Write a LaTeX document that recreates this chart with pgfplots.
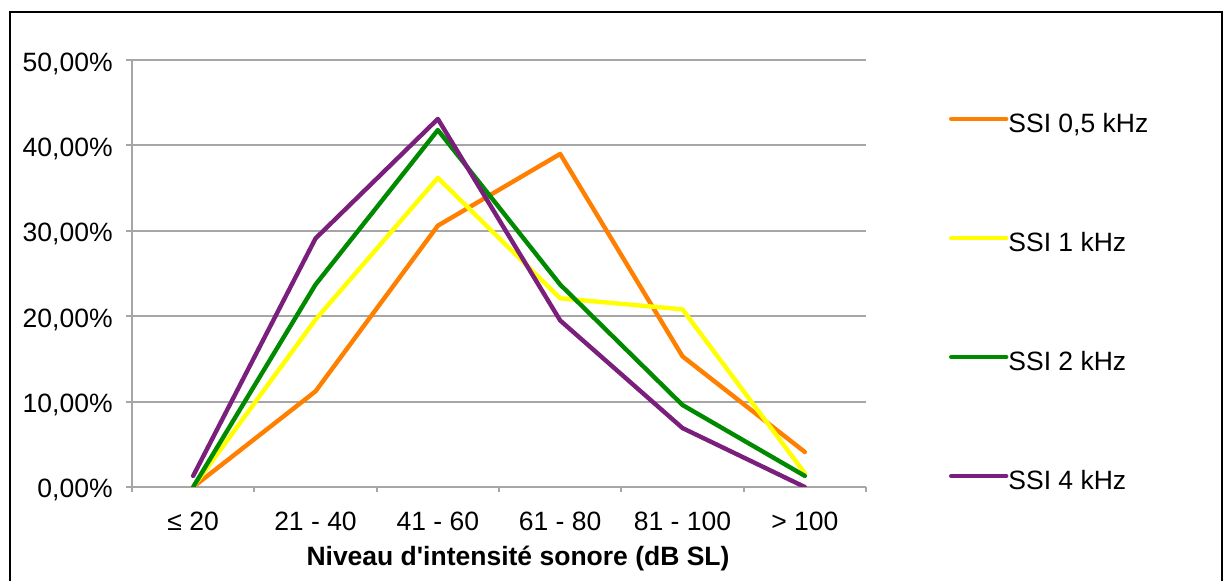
\documentclass[border=0pt]{standalone}
\usepackage{pgfplots}
\pgfplotsset{compat=1.18}
\usepackage{fontspec}
\setmainfont{Liberation Sans}
\definecolor{cOrange}{HTML}{FF8000}
\definecolor{cYellow}{HTML}{FFFF00}
\definecolor{cGreen}{HTML}{008A00}
\definecolor{cPurple}{HTML}{7A1F7B}
\definecolor{gridgray}{HTML}{A6A6A6}
\newcommand{\chartfont}{\fontsize{13.25}{16}\selectfont}
\begin{document}
\begin{tikzpicture}
\useasboundingbox (0,0) rectangle (612.5pt,-290.5pt);
\begin{axis}[
  at={(66pt,-243.5pt)}, anchor=south west,
  scale only axis, width=367pt, height=213.5pt,
  xmin=-0.5, xmax=5.5, ymin=0, ymax=50,
  axis lines=left,
  axis line style={-, draw=gridgray, line width=1pt},
  tick align=outside,
  xtick={0,1,2,3,4,5},
  xticklabels={≤ 20, 21 - 40, 41 - 60, 61 - 80, 81 - 100, > 100},
  major x tick style={draw=none},
  minor xtick={-0.5,0.5,1.5,2.5,3.5,4.5,5.5},
  minor x tick style={draw=gridgray, line width=1pt},
  minor tick length=2.5pt,
  ytick={0,10,20,30,40,50},
  yticklabels={{0,00\%},{10,00\%},{20,00\%},{30,00\%},{40,00\%},{50,00\%}},
  major y tick style={draw=gridgray, line width=1pt},
  major tick length=3pt,
  ymajorgrids,
  grid style={draw=gridgray, line width=1pt},
  tick label style={font=\chartfont, text=black},
  xticklabel style={anchor=base, inner sep=0pt, yshift=-19pt},
  yticklabel style={anchor=base east, inner sep=0pt, xshift=-6.5pt, yshift=-5.5pt},
  xlabel={Niveau d\textquotesingle intensité sonore (dB SL)},
  xlabel style={font=\chartfont\bfseries, at={(axis description cs:0.5259,0)}, anchor=base, inner sep=0pt, yshift=-39pt},
  legend cell align=left,
  legend style={at={(1.1131,0.8934)}, anchor=north west, draw=none, fill=none,
    inner sep=0pt, outer sep=0pt, row sep=46pt, column sep=0pt,
    font=\chartfont,
    nodes={inner sep=0pt, text height=13.5pt, text depth=0pt}},
  legend image code/.code={\draw[#1] (0pt,0pt) -- (27.5pt,0pt);},
  every axis plot/.append style={line width=2.2pt, line join=round, line cap=round},
]
\addplot[cOrange] coordinates {(0,0) (1,11.2) (2,30.6) (3,39.0) (4,15.3) (5,4.1)};
\addlegendentry{SSI 0,5 kHz}
\addplot[cYellow] coordinates {(0,0) (1,19.6) (2,36.2) (3,22.1) (4,20.8) (5,1.6)};
\addlegendentry{SSI 1 kHz}
\addplot[cGreen] coordinates {(0,0) (1,23.7) (2,41.8) (3,23.7) (4,9.6) (5,1.3)};
\addlegendentry{SSI 2 kHz}
\addplot[cPurple] coordinates {(0,1.3) (1,29.1) (2,43.1) (3,19.5) (4,6.9) (5,0)};
\addlegendentry{SSI 4 kHz}
\end{axis}
\draw[line width=1.2pt, black] (5pt,-290.5pt) -- (5pt,-6pt) -- (611pt,-6pt) -- (611pt,-290.5pt);
\end{tikzpicture}
\end{document}
